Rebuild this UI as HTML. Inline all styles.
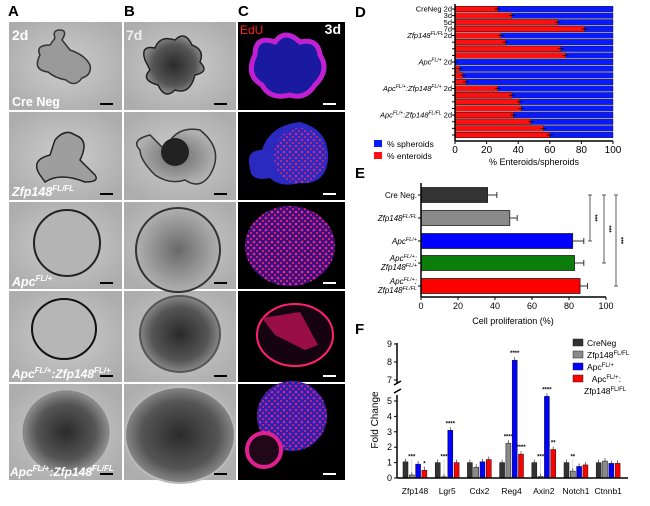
<!DOCTYPE html>
<html><head><meta charset="utf-8"><style>
body{margin:0;background:#fff;width:650px;height:501px;overflow:hidden}
svg{font-family:"Liberation Sans",sans-serif}
</style></head><body>
<svg id="fig" width="650" height="501" viewBox="0 0 650 501" xmlns="http://www.w3.org/2000/svg">
<defs>
<radialGradient id="gA" cx="50%" cy="50%" r="60%"><stop offset="0" stop-color="#cdcdcd"/><stop offset="1" stop-color="#adadad"/></radialGradient>
<radialGradient id="dark" cx="50%" cy="50%" r="50%"><stop offset="0" stop-color="#2a2a2a"/><stop offset="0.7" stop-color="#555"/><stop offset="1" stop-color="#888"/></radialGradient>
<radialGradient id="mid" cx="50%" cy="50%" r="50%"><stop offset="0" stop-color="#6a6a6a"/><stop offset="1" stop-color="#b0b0b0"/></radialGradient>
<radialGradient id="mag" cx="50%" cy="50%" r="50%"><stop offset="0" stop-color="#2a1ab0"/><stop offset="0.8" stop-color="#5a20c8"/><stop offset="1" stop-color="#d020d0"/></radialGradient>
<radialGradient id="red" cx="50%" cy="50%" r="50%"><stop offset="0" stop-color="#7a1070"/><stop offset="1" stop-color="#e01860"/></radialGradient>
<pattern id="dots" width="6" height="6" patternUnits="userSpaceOnUse"><circle cx="2" cy="2" r="1.3" fill="#ff2080"/><circle cx="5" cy="5" r="1" fill="#ff3060"/></pattern>
</defs>
<g font-weight="bold" font-size="15">
<text x="8" y="16">A</text><text x="124" y="16">B</text><text x="238" y="16">C</text>
<text x="355" y="17">D</text><text x="355" y="178">E</text><text x="355" y="334">F</text>
</g>
<g id="imgs"></g>
<g id="chartD"></g>
<g id="chartE"></g>
<g id="chartF"></g>
</svg>
<script>
// ---- Panel D data
const dCats=["CreNeg 2d","3d","5d","7d","Zfp148 2d","","","","Apc 2d","","","","Apc:Zfp148FL/+ 2d","","","","Apc:Zfp148FL/FL 2d","","",""];
const dEnteroids=[27,36,65,82,29,32,67,70,0,3,5,7,27,36,41,42,37,48,56,60];
const dTicks=[0,20,40,60,80,100];
// ---- Panel E data
const eCats=["Cre Neg.","Zfp148FL/FL","ApcFL/+","ApcFL/+:Zfp148FL/+","ApcFL/+:Zfp148FL/FL"];
const eValues=[36,48,82,83,86];
const eErrors=[5,4,6,5,4];
const eTicks=[0,20,40,60,80,100];
// ---- Panel F data
const fGenes=["Zfp148","Lgr5","Cdx2","Reg4","Axin2","Notch1","Ctnnb1"];
const fCreNeg=[1.05,1.0,1.0,1.0,1.0,1.0,1.0];
const fZfp=[0.2,0.08,0.7,2.25,0.1,0.45,1.1];
const fApc=[0.9,3.1,1.05,8.1,5.3,0.75,0.95];
const fDouble=[0.5,1.0,1.2,1.55,1.85,0.85,0.95];
const fTicksLow=[0,1,2,3,4,5];
const fTicksHigh=[7,8,9];

const NS="http://www.w3.org/2000/svg";
function mk(parent,tag,attrs,txt){const e=document.createElementNS(NS,tag);for(const k in attrs)e.setAttribute(k,attrs[k]);if(txt!==undefined)e.textContent=txt;parent.appendChild(e);return e;}

// ---- images
const imgs=document.getElementById('imgs');
const cols=[[9,122],[124,236],[238,345]];
const rows=[[22,110],[112,200],[202,289],[291,382],[384,480]];
rows.forEach((r,ri)=>cols.forEach((c,ci)=>{
  const t=mk(imgs,'rect',{x:c[0],y:r[0],width:c[1]-c[0],height:r[1]-r[0],fill:ci==2?'#000':'url(#gA)'});
  
  
}));
const shapes=`
<path d="M40 55 Q35 45 50 45 L55 38 Q52 30 60 30 Q68 30 62 40 L70 50 Q85 55 90 65 Q92 75 82 78 Q75 88 66 80 Q55 78 48 72 Q32 70 40 55Z" fill="#9a9a9a" stroke="#333" stroke-width="1.5"/>
<path d="M145 60 Q140 45 155 48 Q160 35 175 40 Q185 30 192 45 Q205 50 200 62 Q210 72 195 75 Q190 95 175 90 Q165 100 158 85 Q140 80 150 70Z" fill="url(#dark)" stroke="#222" stroke-width="1.5"/>
<path d="M255 55 Q255 35 275 42 Q285 28 300 42 Q318 38 320 55 Q330 70 315 85 Q305 100 290 95 Q270 100 262 85 Q245 75 255 55Z" fill="#1a1aa0" stroke="#c020d0" stroke-width="5"/>
<path d="M40 175 Q30 160 50 155 L55 140 Q65 128 75 135 Q90 140 80 160 L95 175 Q100 182 85 182 Q60 172 45 182Z" fill="#9e9e9e" stroke="#222" stroke-width="1.5"/>
<path d="M140 150 Q130 140 150 135 L165 150 Q175 125 200 130 Q225 150 210 175 Q200 190 185 180 Q170 185 155 175 Q140 160 140 150Z" fill="url(#mid)" stroke="#333" stroke-width="1.5"/>
<circle cx="175" cy="152" r="14" fill="#222"/>
<path d="M250 168 Q245 150 262 150 Q270 125 300 122 Q330 130 328 160 Q325 185 300 183 Q280 188 270 178 Q250 182 250 168Z" fill="#2a2ac0"/>
<ellipse cx="300" cy="156" rx="26" ry="28" fill="url(#dots)" opacity="0.8"/>
<circle cx="67" cy="243" r="33" fill="#b4b4b4" stroke="#222" stroke-width="2"/>
<circle cx="178" cy="250" r="42" fill="url(#mid)" stroke="#333" stroke-width="2"/>
<ellipse cx="290" cy="246" rx="45" ry="40" fill="#3a1080"/>
<ellipse cx="290" cy="246" rx="45" ry="40" fill="url(#dots)"/>
<ellipse cx="64" cy="329" rx="32" ry="30" fill="#b6b6b6" stroke="#111" stroke-width="2"/>
<ellipse cx="180" cy="334" rx="40" ry="38" fill="url(#dark)" stroke="#555" stroke-width="2"/>
<ellipse cx="295" cy="335" rx="38" ry="31" fill="#150410" stroke="#ff2070" stroke-width="2"/>
<path d="M262 318 L300 312 L318 345 L305 350 L275 335Z" fill="#b01050" opacity="0.85"/>
<ellipse cx="66" cy="432" rx="42" ry="40" fill="url(#dark)" stroke="#888" stroke-width="3"/>
<ellipse cx="180" cy="435" rx="55" ry="48" fill="url(#dark)" stroke="#bbb" stroke-width="2"/>
<circle cx="292" cy="416" r="35" fill="#3020b0"/>
<circle cx="292" cy="416" r="35" fill="url(#dots)" opacity="0.8"/>
<circle cx="264" cy="450" r="17" fill="#200818" stroke="#e02090" stroke-width="4"/>`;
imgs.insertAdjacentHTML('beforeend',shapes);
rows.forEach((r,ri)=>cols.forEach((c,ci)=>{
  const sb=mk(imgs,'rect',{x:c[1]-22,y:r[1]-7,width:13,height:2,fill:ci==2?'#fff':'#000'});
  
  
}));
const labs=`
<g font-weight="bold" fill="#fff" font-size="14">
<text x="12" y="40">2d</text>
<text x="126" y="40" fill="#eee">7d</text>
<text x="240" y="34" fill="#ff2020" font-weight="normal" font-size="12">EdU</text>
<text x="341" y="34" text-anchor="end">3d</text>
<text x="12" y="106" font-size="12.5">Cre Neg</text>
<g font-style="italic" font-size="12.5">
<text x="12" y="196">Zfp148<tspan font-size="8" dy="-5">FL/FL</tspan></text>
<text x="12" y="286">Apc<tspan font-size="8" dy="-5">FL/+</tspan></text>
<text x="12" y="378" font-size="12">Apc<tspan font-size="8" dy="-5">FL/+</tspan><tspan dy="5">:Zfp148</tspan><tspan font-size="8" dy="-5">FL/+</tspan></text>
<text x="10" y="476" font-size="12">Apc<tspan font-size="8" dy="-5">FL/+</tspan><tspan dy="5">:Zfp148</tspan><tspan font-size="8" dy="-5">FL/FL</tspan></text>
</g></g>`;
imgs.insertAdjacentHTML('beforeend',labs);

// ---- Chart D
const D=document.getElementById('chartD');
const dx=v=>455+v*(613-455)/100;
const dy=i=>9+i*(135-9)/(dCats.length-1);
dEnteroids.forEach((v,i)=>{
  const y=dy(i)-2.8;
  const b=mk(D,'rect',{x:dx(0),y:y,width:dx(100)-dx(0),height:5.6,fill:'#0a1aff',stroke:'#111','stroke-width':0.4});
  
  
  const r=mk(D,'rect',{x:dx(0),y:y,width:dx(v)-dx(0),height:5.6,fill:'#ff1010',stroke:'#111','stroke-width':0.4});
  
  
  mk(D,'line',{x1:dx(v)-3,x2:dx(v)+3,y1:dy(i),y2:dy(i),stroke:'#000','stroke-width':0.8});
  mk(D,'line',{x1:dx(0)-3,x2:dx(0),y1:dy(i),y2:dy(i),stroke:'#000','stroke-width':1});
  if(dCats[i]){
    const t=mk(D,'text',{x:452,y:dy(i)+2.5,'text-anchor':'end','font-size':7.5,'font-style':i>=4?'italic':'normal'});
    
    
    const c=dCats[i];
    if(c.startsWith("Zfp148")) t.innerHTML='Zfp148<tspan font-size="5" dy="-3">FL/FL</tspan><tspan dy="3" font-style="normal">2d</tspan>';
    else if(c.startsWith("Apc:Zfp148FL/+")) t.innerHTML='Apc<tspan font-size="5" dy="-3">FL/+</tspan><tspan dy="3">:Zfp148</tspan><tspan font-size="5" dy="-3">FL/+</tspan><tspan dy="3" font-style="normal"> 2d</tspan>';
    else if(c.startsWith("Apc:Zfp148FL/FL")) t.innerHTML='Apc<tspan font-size="5" dy="-3">FL/+</tspan><tspan dy="3">:Zfp148</tspan><tspan font-size="5" dy="-3">FL/FL</tspan><tspan dy="3" font-style="normal"> 2d</tspan>';
    else if(c.startsWith("Apc")) t.innerHTML='Apc<tspan font-size="5" dy="-3">FL/+</tspan><tspan dy="3" font-style="normal"> 2d</tspan>';
    else t.textContent=c;
  }
});
mk(D,'line',{x1:dx(0),x2:dx(0),y1:4,y2:141,stroke:'#000','stroke-width':1.5});
mk(D,'line',{x1:dx(0),x2:dx(100),y1:141,y2:141,stroke:'#000','stroke-width':1.5});
dTicks.forEach(v=>{
  mk(D,'line',{x1:dx(v),x2:dx(v),y1:141,y2:144,stroke:'#000'});
  const t=mk(D,'text',{x:dx(v),y:153,'text-anchor':'middle','font-size':10});t.textContent=v;
  
  
});
const dt=mk(D,'text',{x:534,y:165,'text-anchor':'middle','font-size':9},'% Enteroids/spheroids');


[['#0a1aff','% spheroids',147],['#ff1010','% enteroids',159]].forEach(l=>{
  const g=mk(D,'g',{});
  
  
  mk(g,'rect',{x:374,y:l[2]-7,width:8,height:7,fill:l[0]});
  mk(g,'text',{x:387,y:l[2],'font-size':8.5},l[1]);
});

// ---- Chart E
const E=document.getElementById('chartE');
const ex=v=>421+v*(606-421)/100;
const eColors=['#333333','#8a8a8a','#0000ff','#0a7d0a','#ff0000'];
const eY=[195,218,241,263,286];
eValues.forEach((v,i)=>{
  const b=mk(E,'rect',{x:ex(0),y:eY[i]-7.5,width:ex(v)-ex(0),height:15,fill:eColors[i],stroke:'#222','stroke-width':0.8});
  
  
  mk(E,'line',{x1:ex(v),x2:ex(v+eErrors[i]),y1:eY[i],y2:eY[i],stroke:'#333'});
  mk(E,'line',{x1:ex(v+eErrors[i]),x2:ex(v+eErrors[i]),y1:eY[i]-3,y2:eY[i]+3,stroke:'#333'});
  mk(E,'line',{x1:ex(0)-3,x2:ex(0),y1:eY[i],y2:eY[i],stroke:'#000'});
});
const eLab=['Cre Neg.','<tspan font-style="italic">Zfp148</tspan><tspan font-size="5.5" dy="-3" font-style="italic">FL/FL</tspan>','<tspan font-style="italic">Apc</tspan><tspan font-size="5.5" dy="-3" font-style="italic">FL/+</tspan>'];
eLab.forEach((h,i)=>{const t=mk(E,'text',{x:417,y:eY[i]+3,'text-anchor':'end','font-size':8});t.innerHTML=h;
  
  });
[[3,'FL/+'],[4,'FL/FL']].forEach(p=>{
  const t=mk(E,'text',{x:417,y:eY[p[0]]-2,'text-anchor':'end','font-size':8,'font-style':'italic'});
  t.innerHTML='Apc<tspan font-size="5.5" dy="-3">FL/+</tspan><tspan dy="3">:</tspan>';
  
  
  const t2=mk(E,'text',{x:417,y:eY[p[0]]+7,'text-anchor':'end','font-size':8,'font-style':'italic'});
  t2.innerHTML='Zfp148<tspan font-size="5.5" dy="-3">'+p[1]+'</tspan>';
  
  
});
mk(E,'line',{x1:ex(0),x2:ex(0),y1:183,y2:297,stroke:'#000','stroke-width':1.5});
mk(E,'line',{x1:ex(0),x2:ex(100),y1:297,y2:297,stroke:'#000','stroke-width':1.5});
eTicks.forEach(v=>{
  mk(E,'line',{x1:ex(v),x2:ex(v),y1:297,y2:300,stroke:'#000'});
  const t=mk(E,'text',{x:ex(v),y:309,'text-anchor':'middle','font-size':9});t.textContent=v;
  
  
});
const et=mk(E,'text',{x:513,y:324,'text-anchor':'middle','font-size':9},'Cell proliferation (%)');


[[590,195,241],[604,195,263],[616,195,286]].forEach(s=>{
  const g=mk(E,'g',{stroke:'#333','stroke-width':0.8});
  
  
  mk(g,'line',{x1:s[0],x2:s[0],y1:s[1],y2:s[2]});
  mk(g,'line',{x1:s[0]-2,x2:s[0]+2,y1:s[1],y2:s[1]});
  mk(g,'line',{x1:s[0]-2,x2:s[0]+2,y1:s[2],y2:s[2]});
  mk(E,'text',{x:s[0]+3,y:(s[1]+s[2])/2,'font-size':6,'font-weight':'bold',transform:`rotate(90 ${s[0]+3} ${(s[1]+s[2])/2})`,'text-anchor':'middle'},'***');
});

// ---- Chart F
const F=document.getElementById('chartF');
const fy=v=>v<=5.5?478-v*15.4:380-(v-7)*18;
const gx=i=>415+i*32.2;
const fColors=['#333333','#8a8a8a','#0000ff','#ff0000'];
const fSeries=[fCreNeg,fZfp,fApc,fDouble];
fGenes.forEach((g,i)=>{
  fSeries.forEach((s,k)=>{
    const x=gx(i)-12+k*6.3;
    const b=mk(F,'rect',{x:x,y:fy(s[i]),width:5,height:478-fy(s[i]),fill:fColors[k],stroke:'#111','stroke-width':0.5});
    
    
    mk(F,'line',{x1:x+2.5,x2:x+2.5,y1:fy(s[i])-3,y2:fy(s[i]),stroke:'#333','stroke-width':0.7});
  });
  const t=mk(F,'text',{x:gx(i),y:494,'text-anchor':'middle','font-size':8.5},g);
  
  
});
mk(F,'line',{x1:397,x2:397,y1:478,y2:395,stroke:'#000','stroke-width':1.5});
mk(F,'line',{x1:397,x2:397,y1:384,y2:343,stroke:'#000','stroke-width':1.5});
mk(F,'line',{x1:394,x2:401,y1:393,y2:389,stroke:'#000','stroke-width':1.5});
mk(F,'line',{x1:394,x2:401,y1:385,y2:381,stroke:'#000','stroke-width':1.5});
mk(F,'line',{x1:397,x2:628,y1:478,y2:478,stroke:'#000','stroke-width':1.5});
fTicksLow.concat(fTicksHigh).forEach(v=>{
  mk(F,'line',{x1:394,x2:397,y1:fy(v),y2:fy(v),stroke:'#000'});
  const t=mk(F,'text',{x:392,y:fy(v)+3,'text-anchor':'end','font-size':9},v);
  
  
});
const ft=mk(F,'text',{x:378,y:420,'text-anchor':'middle','font-size':10,transform:'rotate(-90 378 420)'},'Fold Change');


[[0,1,'***'],[0,3,'*'],[1,1,'***'],[1,2,'****'],[3,1,'****'],[3,2,'****'],[3,3,'****'],[4,1,'***'],[4,2,'****'],[4,3,'**'],[5,1,'**']].forEach(s=>{
  const x=gx(s[0])-12+s[1]*6.3+2.5;
  const v=fSeries[s[1]][s[0]];
  const y=s[1]==1&&v<1?fy(1)-4:fy(v)-5;
  mk(F,'text',{x:x,y:y,'text-anchor':'middle','font-size':6,'font-weight':'bold'},s[2]);
  if(v<1) mk(F,'line',{x1:x,x2:x,y1:y+1,y2:fy(v),stroke:'#777','stroke-width':0.5,'stroke-dasharray':'1 1'});
});
const lg=mk(F,'g',{'font-size':8.5});


[['#333333','CreNeg',346],['#8a8a8a','Zfp148<tspan font-size="6" dy="-3">FL/FL</tspan>',358],['#0000ff','Apc<tspan font-size="6" dy="-3">FL/+</tspan>',370],['#ff0000','&#160;&#160;Apc<tspan font-size="6" dy="-3">FL/+</tspan><tspan dy="3">:</tspan>',382]].forEach(l=>{
  mk(lg,'rect',{x:573,y:l[2]-7,width:10,height:7,fill:l[0],stroke:'#222','stroke-width':0.5});
  const t=mk(lg,'text',{x:587,y:l[2]});t.innerHTML=l[1];
});
const z=mk(lg,'text',{x:584,y:394});z.innerHTML='Zfp148<tspan font-size="6" dy="-3">FL/FL</tspan>';
</script>
</body></html>
